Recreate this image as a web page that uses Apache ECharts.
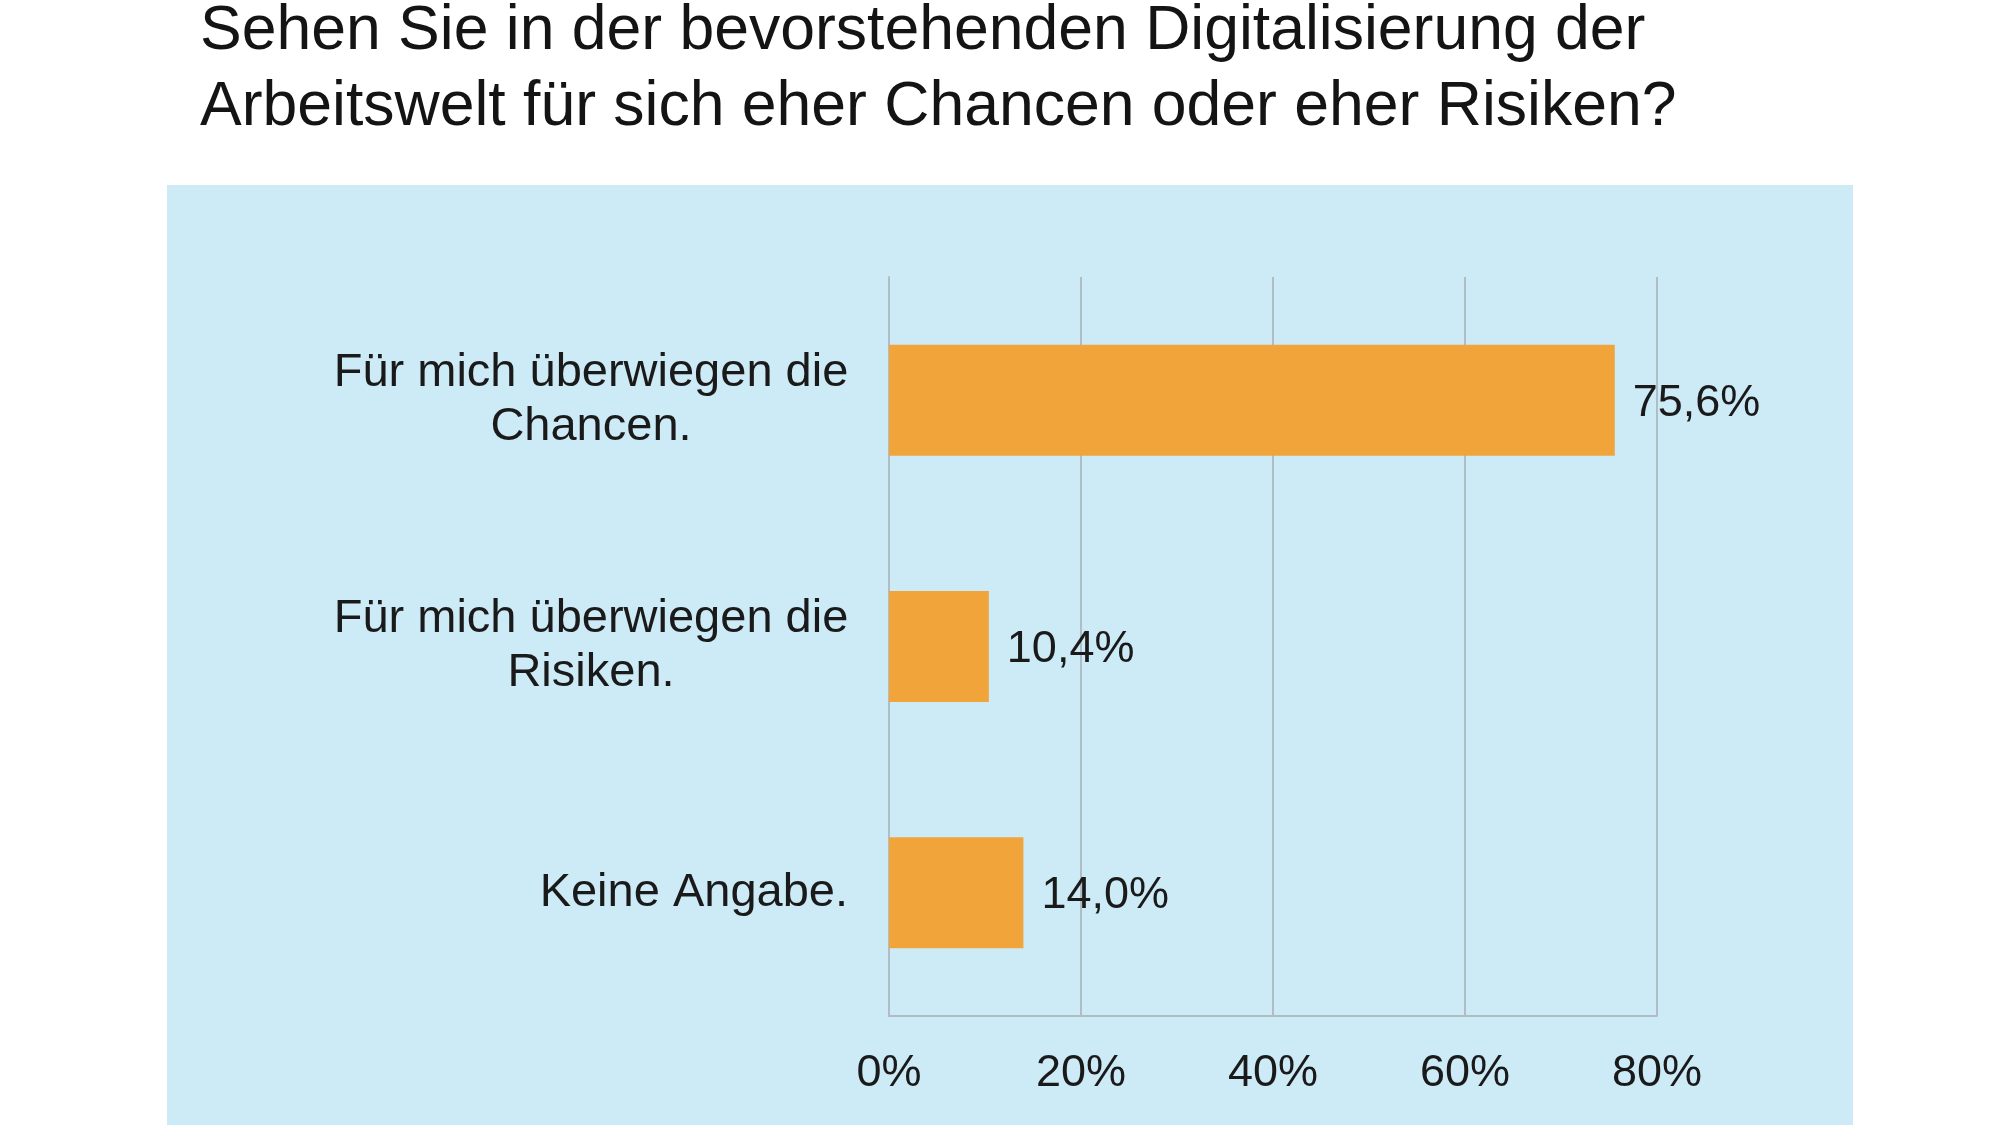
<!DOCTYPE html>
<html>
<head>
<meta charset="utf-8">
<title>Digitalisierung der Arbeitswelt</title>
<script src="https://cdn.jsdelivr.net/npm/echarts@6/dist/echarts.min.js"></script>
<style>
  html, body { margin: 0; padding: 0; background: #ffffff; }
  #main { width: 2000px; height: 1125px; }
</style>
</head>
<body>
<div id="main"></div>
<script>
// Daten
var categories = [
	'Für mich überwiegen die\nChancen.',
	'Für mich überwiegen die\nRisiken.',
	'Keine Angabe.'
];
var values = [75.6, 10.4, 14.0];
var xTicks = [0, 20, 40, 60, 80];

var titleText = 'Sehen Sie in der bevorstehenden Digitalisierung der\nArbeitswelt für sich eher Chancen oder eher Risiken?';

function fmtPct(v) {
	return v.toFixed(1).replace('.', ',') + '%';
}

var myChart = echarts.init(document.getElementById('main'));

myChart.setOption({
	animation: false,
	textStyle: { fontFamily: 'Liberation Sans, Arial, sans-serif' },
	title: {
		text: titleText,
		left: 195,
		top: -11,
		textStyle: {
			fontSize: 62.5,
			lineHeight: 76,
			fontWeight: 'normal',
			color: '#141414'
		}
	},
	// hellblaue Fläche hinter dem Diagramm
	graphic: [{
		type: 'rect',
		z: -10,
		silent: true,
		shape: { x: 167, y: 185, width: 1686, height: 940 },
		style: { fill: '#cdebf7' }
	}],
	grid: {
		left: 889,
		right: 343,
		top: 277,
		height: 739,
		containLabel: false
	},
	xAxis: {
		type: 'value',
		min: xTicks[0],
		max: xTicks[xTicks.length - 1],
		interval: 20,
		axisLine: { show: true, lineStyle: { color: '#b2bcc4', width: 2 } },
		axisTick: { show: false },
		axisLabel: {
			formatter: '{value}%',
			fontSize: 45,
			color: '#1a1a1a',
			margin: 35
		},
		splitLine: { show: true, lineStyle: { color: '#b2bcc4', width: 2 } }
	},
	yAxis: {
		type: 'category',
		inverse: true,
		data: categories,
		axisLine: { show: true, lineStyle: { color: '#b2bcc4', width: 2 } },
		axisTick: { show: false },
		axisLabel: {
			margin: 41,
			fontSize: 47,
			lineHeight: 54,
			color: '#1a1a1a',
			formatter: function (val) {
				var parts = val.split('\n');
				if (parts.length < 2) return val;
				return parts.map(function (p) { return '{w|' + p + '}'; }).join('\n');
			},
			rich: {
				w: { width: 514, align: 'center', fontSize: 47, lineHeight: 54, color: '#1a1a1a' }
			}
		}
	},
	series: [{
		type: 'bar',
		data: values,
		barWidth: 111,
		itemStyle: { color: '#f1a43a' },
		label: {
			show: true,
			position: 'right',
			distance: 18,
			offset: [0, 3],
			fontSize: 45,
			color: '#1a1a1a',
			formatter: function (p) { return fmtPct(p.value); }
		}
	}]
});
</script>
</body>
</html>
